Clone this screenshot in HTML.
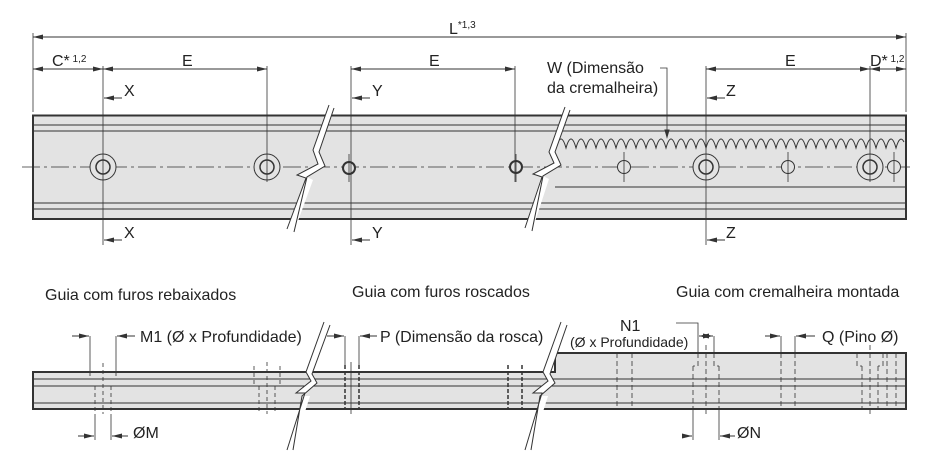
<!DOCTYPE html>
<html><head><meta charset="utf-8"><style>body{margin:0;background:#fff}svg{display:block}text{font-family:"Liberation Sans",Arial,sans-serif;fill:#222}</style></head><body>
<svg width="933" height="473" viewBox="0 0 933 473" xmlns="http://www.w3.org/2000/svg">
<defs><marker id="a" markerWidth="10" markerHeight="6" refX="10" refY="3" orient="auto-start-reverse" markerUnits="userSpaceOnUse"><path d="M0,0.5 L10,3 L0,5.5z" fill="#333"/></marker></defs>
<g stroke="#333" stroke-width="1" fill="none">
<!-- top rail -->
<rect x="33" y="115.5" width="873" height="103.5" fill="#e3e3e3" stroke-width="2"/>
<line x1="33" y1="125" x2="906" y2="125"/><line x1="33" y1="131" x2="906" y2="131"/>
<line x1="33" y1="203" x2="906" y2="203"/><line x1="33" y1="209" x2="906" y2="209"/>
<line x1="555" y1="187" x2="906" y2="187"/>
<path d="M556,148 q5,-18 10,0 q5,-18 10,0 q5,-18 10,0 q5,-18 10,0 q5,-18 10,0 q5,-18 10,0 q5,-18 10,0 q5,-18 10,0 q5,-18 10,0 q5,-18 10,0 q5,-18 10,0 q5,-18 10,0 q5,-18 10,0 q5,-18 10,0 q5,-18 10,0 q5,-18 10,0 q5,-18 10,0 q5,-18 10,0 q5,-18 10,0 q5,-18 10,0 q5,-18 10,0 q5,-18 10,0 q5,-18 10,0 q5,-18 10,0 q5,-18 10,0 q5,-18 10,0 q5,-18 10,0 q5,-18 10,0 q5,-18 10,0 q5,-18 10,0 q5,-18 10,0 q5,-18 10,0 q5,-18 10,0 q5,-18 10,0 q4,-14 8,-6"/>
<line x1="22" y1="167" x2="912" y2="167" stroke-dasharray="18,4,3,4" stroke-width="0.8"/>
<g fill="#e3e3e3">
<circle cx="103" cy="167" r="13"/><circle cx="103" cy="167" r="7" stroke-width="1.5"/>
<circle cx="267" cy="167" r="13"/><circle cx="267" cy="167" r="7" stroke-width="1.5"/>
<circle cx="349" cy="168" r="6" stroke-width="2"/><circle cx="516" cy="167" r="6" stroke-width="2"/>
<circle cx="624" cy="167" r="6.5"/><circle cx="706" cy="167" r="13"/><circle cx="706" cy="167" r="7" stroke-width="1.5"/>
<circle cx="788" cy="167" r="6.5"/><circle cx="870" cy="167" r="13"/><circle cx="870" cy="167" r="7" stroke-width="1.5"/><circle cx="894" cy="167" r="6.5"/>
</g>
<path d="M624,152 v30 M788,152 v30 M894,152 v30 M516,154 v28 M349,154 v28" stroke-width="0.8"/>
<!-- break marks -->
<path d="M329,105 L313,150 L318,164 L297,175 L306,178 L287,229 L294,232 L313,180 L307,177 L325,166 L319,152 L334,108 z" fill="#fff" stroke="none"/>
<path d="M329,105 L313,150 L318,164 L297,175 L306,178 L287,229 M334,108 L319,152 L325,166 L307,177 L294,232"/>
<path d="M565,107 L549,152 L554,163 L533,174 L542,177 L525,228 L532,231 L549,179 L543,176 L561,165 L555,152 L570,110 z" fill="#fff" stroke="none"/>
<path d="M565,107 L549,152 L554,163 L533,174 L542,177 L525,228 M570,110 L555,152 L561,165 L543,176 L532,231"/>
<!-- dimension lines -->
<line x1="33" y1="33" x2="33" y2="112" stroke-width="0.8"/><line x1="906" y1="33" x2="906" y2="112" stroke-width="0.8"/>
<line x1="33" y1="37" x2="906" y2="37" marker-start="url(#a)" marker-end="url(#a)"/>
<line x1="33" y1="69" x2="103" y2="69" marker-start="url(#a)" marker-end="url(#a)"/>
<line x1="103" y1="69" x2="267" y2="69" marker-start="url(#a)" marker-end="url(#a)"/>
<line x1="351" y1="69" x2="515" y2="69" marker-start="url(#a)" marker-end="url(#a)"/>
<line x1="706" y1="69" x2="870" y2="69" marker-start="url(#a)" marker-end="url(#a)"/>
<line x1="870" y1="69" x2="906" y2="69" marker-start="url(#a)" marker-end="url(#a)"/>
<path d="M103,66 V245 M267,66 V182 M351,66 V245 M515,66 V182 M706,66 V245 M870,66 V182" stroke-width="0.8"/>
<line x1="122" y1="98" x2="104" y2="98" marker-end="url(#a)"/><line x1="122" y1="240" x2="104" y2="240" marker-end="url(#a)"/>
<line x1="370" y1="98" x2="352" y2="98" marker-end="url(#a)"/><line x1="370" y1="240" x2="352" y2="240" marker-end="url(#a)"/>
<line x1="725" y1="98" x2="707" y2="98" marker-end="url(#a)"/><line x1="725" y1="240" x2="707" y2="240" marker-end="url(#a)"/>
<path d="M660,68 H667 V137" stroke-width="0.8"/><path d="M665,130 L667,137 L669,130z" fill="#333"/>
<!-- bottom rail -->
<path d="M33,372 H555 V353 H906 V409 H33 Z" fill="#e3e3e3" stroke-width="2"/>
<line x1="33" y1="379" x2="906" y2="379"/><line x1="33" y1="386" x2="906" y2="386"/><line x1="33" y1="403" x2="906" y2="403"/>
<g stroke-width="0.8">
<path d="M90,372 V379 M116,372 V379 M90,386 H95 M116,386 H111 M95,386 V414 M111,386 V414 M103,363 V414" stroke-dasharray="4,3"/>
<path d="M90,336 V372 M116,336 V372 M95,414 V440 M111,414 V440"/>
<path d="M254,366 V386 M280,366 V386 M254,386 H259 M280,386 H275 M259,386 V414 M275,386 V414 M267,362 V414" stroke-dasharray="4,3"/>
<path d="M345,336 V365 M359,336 V365 M351,362 V414"/>
<path d="M345,365 V409 M359,365 V409 M508,365 V409 M522,365 V409" stroke-dasharray="4,2" stroke-width="1.5"/>
<path d="M617,353 V409 M632,353 V409 M698,353 V366 H693 M714,353 V366 H719 M693,366 V409 M719,366 V409 M706,345 V414 M781,353 V409 M795,353 V409 M857,353 V366 H862 M883,353 V366 H878 M862,366 V409 M878,366 V409 M870,345 V414 M887,353 V409 M896,353 V409" stroke-dasharray="5,3"/>
<path d="M693,409 V440 M719,409 V440 M698,336 V353 M714,336 V353 M781,336 V353 M795,336 V353 M676,323 H698 V336"/>
</g>
<g stroke-width="1">
<line x1="72" y1="336" x2="89" y2="336" marker-end="url(#a)"/><line x1="135" y1="336" x2="117" y2="336" marker-end="url(#a)"/>
<line x1="327" y1="336" x2="344" y2="336" marker-end="url(#a)"/><line x1="377" y1="336" x2="360" y2="336" marker-end="url(#a)"/>
<line x1="78" y1="436" x2="94" y2="436" marker-end="url(#a)"/><line x1="128" y1="436" x2="112" y2="436" marker-end="url(#a)"/>
<line x1="682" y1="436" x2="692" y2="436" marker-end="url(#a)"/><line x1="735" y1="436" x2="720" y2="436" marker-end="url(#a)"/>
<line x1="699" y1="336" x2="713" y2="336" marker-start="url(#a)" marker-end="url(#a)"/>
<line x1="765" y1="336" x2="780" y2="336" marker-end="url(#a)"/><line x1="815" y1="336" x2="796" y2="336" marker-end="url(#a)"/>
</g>
<path d="M324,322 L306,372 L311,381 L296,393 L305,393 L287,450 L293,450 L310,396 L302,396 L317,383 L312,374 L330,325 z" fill="#fff" stroke="none"/>
<path d="M324,322 L306,372 L311,381 L296,393 L305,393 L287,450 M330,325 L312,374 L317,383 L302,396 L293,450"/>
<path d="M561,322 L543,372 L548,381 L533,393 L542,393 L525,450 L531,450 L548,396 L540,396 L555,383 L550,374 L567,325 z" fill="#fff" stroke="none"/>
<path d="M561,322 L543,372 L548,381 L533,393 L542,393 L525,450 M567,325 L550,374 L555,383 L540,396 L531,450"/>
</g>
<g font-size="16">
<text x="449" y="34">L<tspan font-size="10" dy="-6">*1,3</tspan></text>
<text x="52" y="66">C*<tspan font-size="10" dy="-4"> 1,2</tspan></text>
<text x="182" y="66">E</text><text x="429" y="66">E</text><text x="785" y="66">E</text>
<text x="870" y="66">D*<tspan font-size="10" dy="-4"> 1,2</tspan></text>
<text x="124" y="96">X</text><text x="124" y="238">X</text>
<text x="372" y="96">Y</text><text x="372" y="238">Y</text>
<text x="726" y="96">Z</text><text x="726" y="238">Z</text>
<text x="547" y="73">W (Dimensão</text><text x="547" y="93">da cremalheira)</text>
<text x="45" y="300">Guia com furos rebaixados</text>
<text x="352" y="297">Guia com furos roscados</text>
<text x="676" y="297">Guia com cremalheira montada</text>
<text x="140" y="342">M1 (Ø x Profundidade)</text>
<text x="380" y="342">P (Dimensão da rosca)</text>
<text x="620" y="331">N1</text>
<text x="570" y="347" font-size="14">(Ø x Profundidade)</text>
<text x="822" y="342">Q (Pino Ø)</text>
<text x="133" y="438">ØM</text><text x="737" y="438">ØN</text>
</g>
</svg>
</body></html>
